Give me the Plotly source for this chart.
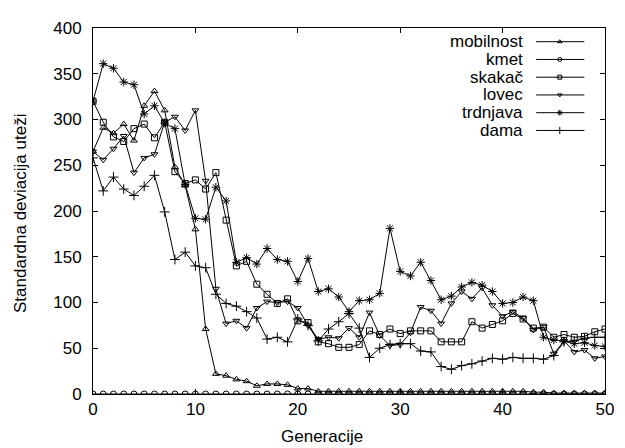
import plotly.graph_objects as go

gen = list(range(51))

mobilnost = [265, 291, 285, 295, 277, 315, 331, 310, 248, 228,
             180, 71, 22, 20, 16, 14, 9, 11, 11, 10,
             6, 6, 3, 3, 3, 3, 3, 3, 3, 3,
             3, 3, 3, 3, 3, 3, 3, 3, 3, 3,
             3, 3, 3, 2, 2, 1, 1, 1, 1, 1,
             1]
kmet = [0, 0, 0, 0, 0, 0, 0, 0, 0, 0,
        0, 0, 0, 0, 0, 0, 0, 0, 0, 0,
        0, 0, 0, 0, 0, 0, 0, 0, 0, 0,
        0, 0, 0, 0, 0, 0, 0, 0, 0, 0,
        0, 0, 0, 0, 0, 0, 0, 0, 0, 0,
        0]
skakac = [320, 297, 281, 276, 290, 295, 280, 297, 243, 230,
          234, 224, 242, 190, 140, 145, 120, 109, 99, 104,
          80, 78, 57, 55, 51, 51, 54, 69, 65, 71,
          66, 69, 69, 69, 57, 57, 57, 79, 72, 76,
          80, 88, 82, 72, 73, 62, 65, 62, 63, 68,
          71]
lovec = [265, 256, 268, 282, 242, 258, 262, 297, 303, 288,
         310, 233, 115, 77, 80, 72, 94, 101, 100, 101,
         94, 75, 60, 62, 61, 72, 62, 89, 64, 53,
         54, 67, 95, 91, 77, 99, 112, 104, 116, 97,
         85, 90, 83, 70, 73, 44, 58, 46, 48, 39,
         41]
trdnjava = [320, 361, 356, 341, 338, 306, 315, 296, 290, 229,
            192, 191, 226, 211, 144, 149, 142, 159, 147, 145,
            123, 148, 112, 115, 106, 90, 102, 103, 110, 181,
            134, 129, 144, 124, 103, 107, 117, 122, 119, 112,
            99, 100, 106, 102, 62, 59, 58, 55, 56, 53,
            52]
dama = [258, 222, 237, 224, 217, 227, 239, 199, 147, 155,
        140, 138, 109, 99, 96, 90, 83, 60, 62, 57,
        82, 75, 58, 71, 79, 88, 72, 40, 50, 54,
        55, 55, 47, 46, 30, 27, 31, 33, 36, 39,
        38, 40, 39, 39, 38, 42, 57, 58, 61, 62,
        62]

names = ["mobilnost", "kmet", "skakač", "lovec", "trdnjava", "dama"]
series = [mobilnost, kmet, skakac, lovec, trdnjava, dama]
symbols = ["triangle-up-open", "circle-open", "square-open",
           "triangle-down-open", "asterisk-open", "cross-thin-open"]
sizes = [6, 6, 6, 6, 7, 7]

FONT = "Liberation Sans, Arial, Helvetica, sans-serif"
FS = 17

fig = go.Figure()
for name, ys, sym, sz in zip(names, series, symbols, sizes):
    fig.add_trace(go.Scatter(
        x=gen, y=ys, name=name, mode="lines+markers",
        line=dict(color="black", width=1),
        marker=dict(symbol=sym, size=sz, color="black",
                    line=dict(color="black", width=1)),
        showlegend=False,
    ))

# custom gnuplot-style key: text right-aligned, sample line to the right
key_text_x = 0.8445
key_line_x0 = 0.8656
key_line_x1 = 0.9597
key_mark_x = 0.9117
key_y0 = 0.9626
key_dy = 0.0485
annotations = []
shapes = []
for i, (name, sym, sz) in enumerate(zip(names, symbols, sizes)):
    yy = key_y0 - i * key_dy
    annotations.append(dict(
        x=key_text_x, y=yy, xref="paper", yref="paper", text=name,
        showarrow=False, xanchor="right", yanchor="middle",
        font=dict(family=FONT, size=FS, color="black")))
    shapes.append(dict(type="line", xref="paper", yref="paper",
                       x0=key_line_x0, x1=key_line_x1, y0=yy, y1=yy,
                       line=dict(color="black", width=1)))
    fig.add_trace(go.Scatter(
        x=[key_mark_x], y=[yy], xaxis="x2", yaxis="y2", mode="markers",
        marker=dict(symbol=sym, size=sz - 2, color="black",
                    line=dict(color="black", width=1)),
        showlegend=False, hoverinfo="skip"))

annotations.append(dict(
    x=0.447, y=-0.116, xref="paper", yref="paper", text="Generacije",
    showarrow=False, xanchor="center", yanchor="middle",
    font=dict(family=FONT, size=FS, color="black")))
annotations.append(dict(
    x=-0.142, y=0.4927, xref="paper", yref="paper",
    text="Standardna deviacija uteži", textangle=-90,
    showarrow=False, xanchor="center", yanchor="middle",
    font=dict(family=FONT, size=FS, color="black")))

axis_common = dict(
    showgrid=False, zeroline=False, showline=True, mirror="allticks",
    linecolor="black", linewidth=1, ticks="inside", ticklen=5,
    tickcolor="black", tickwidth=1,
    tickfont=dict(family=FONT, size=FS, color="black"),
)

# page body has an 8px margin, so the figure is sized to fit the window
fig.update_layout(
    width=617, height=440,
    margin=dict(l=85, r=11, t=12, b=54),
    paper_bgcolor="white", plot_bgcolor="white",
    xaxis=dict(range=[0, 50], dtick=10, tick0=0, ticklabelstandoff=0,
               **axis_common),
    yaxis=dict(range=[0, 400], dtick=50, tick0=0, ticklabelstandoff=7,
               **axis_common),
    xaxis2=dict(overlaying="x", range=[0, 1], visible=False),
    yaxis2=dict(overlaying="y", range=[0, 1], visible=False),
    annotations=annotations,
    shapes=shapes,
    showlegend=False,
)

fig.write_html("out.html")
